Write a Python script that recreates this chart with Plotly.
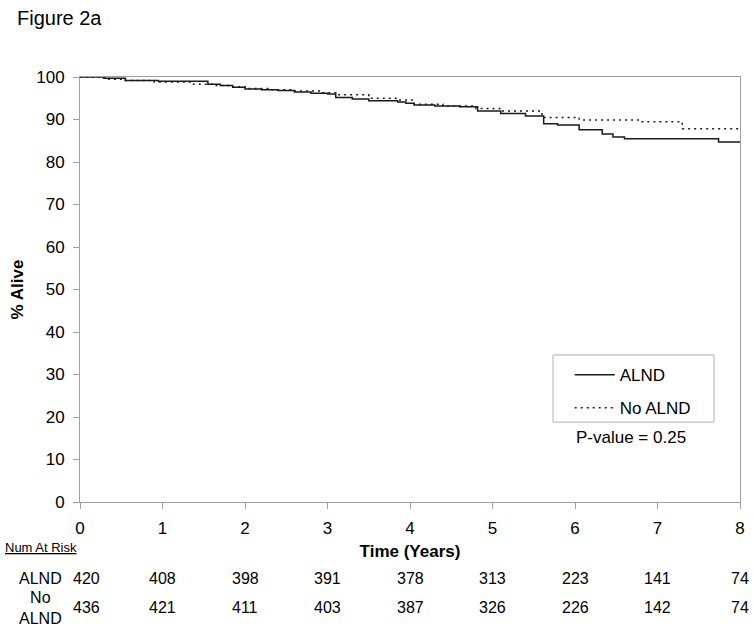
import plotly.graph_objects as go

# ---- data ----
alnd_t = [0, 0.3, 0.55, 0.95, 1.55, 1.7, 1.85, 2.0, 2.2, 2.4, 2.6, 2.8, 3.0, 3.1, 3.3, 3.5,
          3.85, 3.95, 4.05, 4.3, 4.6, 4.82, 5.1, 5.4, 5.62, 5.79, 6.05, 6.33, 6.46, 6.6, 7.74, 8.0]
alnd_v = [100, 99.7, 99.2, 99.0, 98.3, 98.0, 97.6, 97.2, 97.0, 96.8, 96.5, 96.2, 96.0, 95.2, 94.8, 94.4,
          94.1, 93.8, 93.4, 93.2, 93.0, 92.0, 91.4, 90.8, 89.0, 88.7, 87.6, 86.6, 85.9, 85.5, 84.7, 84.7]

noalnd_t = [0, 0.25, 0.35, 0.55, 0.9, 1.35, 1.6, 1.8, 2.0, 2.3, 2.6, 2.9, 3.1, 3.5, 3.85, 4.05,
            4.4, 4.8, 5.1, 5.6, 6.05, 6.8, 7.3, 8.0]
noalnd_v = [100, 99.7, 99.5, 99.2, 98.8, 98.3, 98.0, 97.7, 97.3, 97.0, 96.7, 96.3, 95.8, 95.0, 94.6, 93.6,
            93.2, 92.6, 92.0, 90.5, 89.9, 89.5, 87.8, 87.8]

risk_times = [0, 1, 2, 3, 4, 5, 6, 7, 8]
risk_alnd = [420, 408, 398, 391, 378, 313, 223, 141, 74]
risk_noalnd = [436, 421, 411, 403, 387, 326, 226, 142, 74]

FONT = "Liberation Sans, Arial, sans-serif"

fig = go.Figure()
fig.add_trace(go.Scatter(x=alnd_t, y=alnd_v, mode="lines", line_shape="hv", name="ALND",
                         legendgroup="a", line=dict(color="#1a1a1a", width=1.5)))
fig.add_trace(go.Scatter(x=noalnd_t, y=noalnd_v, mode="lines", line_shape="hv", name="No ALND",
                         legendgroup="b", line=dict(color="#1a1a1a", width=1.5, dash="2px,4px")))

annotations = []
# at-risk numbers
for i, t in enumerate(risk_times):
    xt = t + 0.08 if t == 0 else t
    annotations.append(dict(x=xt, y=-0.179, xref="x", yref="paper", text=str(risk_alnd[i]),
                            xanchor="center", yanchor="middle", showarrow=False,
                            font=dict(size=16, family=FONT, color="black")))
    annotations.append(dict(x=xt, y=-0.249, xref="x", yref="paper", text=str(risk_noalnd[i]),
                            xanchor="center", yanchor="middle", showarrow=False,
                            font=dict(size=16, family=FONT, color="black")))
annotations += [
    dict(x=-0.059, y=-0.106, xref="paper", yref="paper", text="<u>Num At Risk</u>", showarrow=False,
         xanchor="center", yanchor="middle", font=dict(size=13, family=FONT, color="black")),
    dict(x=-0.0606, y=-0.179, xref="paper", yref="paper", text="ALND", showarrow=False,
         xanchor="center", yanchor="middle", font=dict(size=16, family=FONT, color="black")),
    dict(x=-0.0606, y=-0.249, xref="paper", yref="paper", text="No<br>ALND", showarrow=False,
         xanchor="center", yanchor="middle", font=dict(size=16, family=FONT, color="black")),
    dict(x=0.835, y=0.1506, xref="paper", yref="paper", text="P-value = 0.25", showarrow=False,
         xanchor="center", yanchor="middle", font=dict(size=17, family=FONT, color="black")),
]

fig.update_layout(
    width=754, height=631,
    margin=dict(l=80, r=14, t=77, b=129),
    paper_bgcolor="white", plot_bgcolor="white",
    font=dict(family=FONT, size=17, color="black"),
    title=dict(text="Figure 2a", x=17 / 754, xanchor="left", y=1 - 18 / 631, yanchor="middle",
               font=dict(size=20, family=FONT, color="black")),
    showlegend=True,
    legend=dict(x=0.742, y=0.341, xanchor="left", yanchor="top", bgcolor="rgba(0,0,0,0)",
                borderwidth=0, tracegroupgap=8, itemwidth=40,
                font=dict(size=17, family=FONT, color="black")),
    annotations=annotations,
    shapes=[dict(type="rect", xref="paper", yref="paper", x0=0.7167, x1=0.9606, y0=0.188, y1=0.3459,
                 line=dict(color="#b0b0b0", width=1), fillcolor="rgba(0,0,0,0)")],
)
fig.update_xaxes(range=[0, 8], tickvals=risk_times, ticks="outside", ticklen=6, tickcolor="#a0a0a0",
                 showline=True, linecolor="#a0a0a0", linewidth=1, mirror=True, showgrid=False,
                 zeroline=False, tickfont=dict(size=17), ticklabelstandoff=5, automargin=False,
                 title=dict(text="<b>Time (Years)</b>", standoff=7, font=dict(size=17)))
fig.update_yaxes(range=[0, 100], dtick=10, ticks="outside", ticklen=6, tickcolor="#a0a0a0",
                 showline=True, linecolor="#a0a0a0", linewidth=1, mirror=True, showgrid=False,
                 zeroline=False, tickfont=dict(size=17), ticklabelstandoff=5, automargin=False,
                 title=dict(text="<b>% Alive</b>", standoff=8, font=dict(size=17)))

fig.write_html("out.html", config={"displayModeBar": False},
               post_script="document.body.style.margin='0';document.body.style.overflow='hidden';")
